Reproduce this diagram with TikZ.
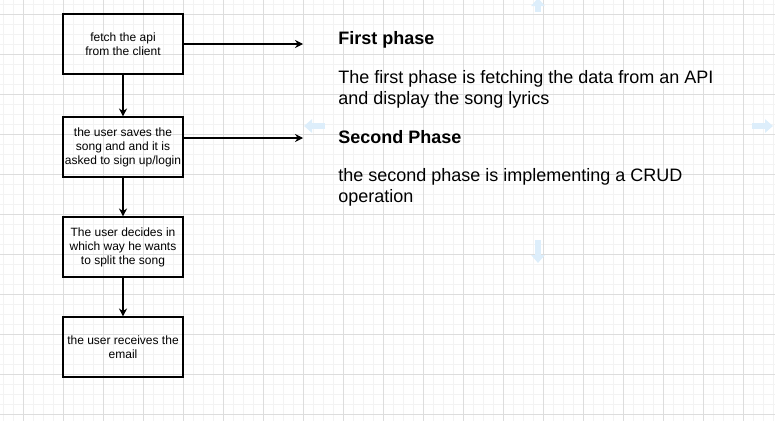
\documentclass[tikz,border=0pt]{standalone}
\usepackage{fontspec}
\setmainfont{Liberation Sans}
\usepackage{xcolor}
\usetikzlibrary{arrows.meta,positioning,calc}

\definecolor{gridminor}{HTML}{F3F3F3}
\definecolor{gridmajor}{HTML}{DDDDDD}
\definecolor{hoverblue}{HTML}{DDEEFB}

\begin{document}
\begin{tikzpicture}[x=0.75pt, y=-0.75pt,
    stepbox/.style={draw, line width=0.8pt, minimum width=90pt, minimum height=45pt,
        inner sep=0pt, align=center, font=\fontsize{9pt}{10.5pt}\selectfont},
    flow/.style={-{Stealth[length=6pt,width=6pt]}, line width=0.8pt},
    phasetitle/.style={anchor=base west, inner sep=0pt, font=\fontsize{13.5pt}{15.75pt}\selectfont\bfseries},
    phasetext/.style={anchor=base west, inner sep=0pt, align=left, font=\fontsize{13.5pt}{15.75pt}\selectfont},
    hover/.style={hoverblue, line width=4.5pt, -{Triangle[length=6pt,width=10pt]}}]

    \useasboundingbox (0,0) rectangle (775,421);

    % Background grid
    \foreach \x in {3,13,...,773} \draw[gridminor, line width=0.75pt] (\x,0) -- (\x,421);
    \foreach \y in {4,14,...,414} \draw[gridminor, line width=0.75pt] (0,\y) -- (775,\y);
    \foreach \x in {23,63,...,763} \draw[gridmajor, line width=0.75pt] (\x,0) -- (\x,421);
    \foreach \y in {14,54,...,414} \draw[gridmajor, line width=0.75pt] (0,\y) -- (775,\y);

    % Faint hover arrows
    \draw[hover] (538,12) -- (538,-2);
    \draw[hover] (325,126) -- (304,126);
    \draw[hover] (752,126) -- (773,126);
    \draw[hover] (538,240) -- (538,263);

    % Steps of the flow
    \node[stepbox] (fetch) at (123,44) {fetch the api\\from the client};
    \node[stepbox] (save) at (123,147) {the user saves the\\song and and it is\\asked to sign up/login};
    \node[stepbox] (split) at (123,247) {The user decides in\\which way he wants\\to split the song};
    \node[stepbox] (email) at (123,347) {the user receives the\\email};

    % Arrows down the flow
    \draw[flow] (fetch) -- (save);
    \draw[flow] (save) -- (split);
    \draw[flow] (split) -- (email);

    % Arrows to the phases
    \coordinate (p1end) at (303,44);
    \coordinate (p2end) at (303,138);
    \draw[flow] (fetch.east) -- (p1end);
    \draw[flow] ($(save.east)+(0,-9)$) -- (p2end);

    % Phase descriptions (base is the last line)
    \node[phasetitle] (first) at (338,44) {First phase};
    \node[phasetext] (firsttext) at (338,104.3) {The first phase is fetching the data from an API\\and display the song lyrics};
    \node[phasetitle] (second) at (338,143) {Second Phase};
    \node[phasetext] (secondtext) at (338,202.7) {the second phase is implementing a CRUD\\operation};
\end{tikzpicture}
\end{document}
